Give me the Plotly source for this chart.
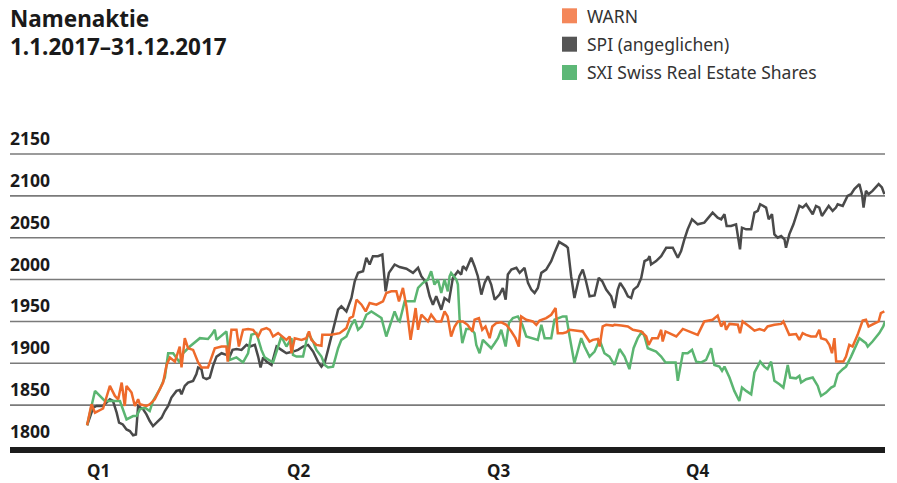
import plotly.graph_objects as go

# ---------------- data (day of year 2017, index value) ----------------
spi_points = [
    (0.1,1826),(2.9,1847),(4.4,1849),(7.3,1849),(10.5,1857),(11.9,1855),(13.6,1841),(14.7,1829),(16.4,1827),
    (18.1,1821),(19.6,1819),(21.1,1814),(22.4,1815),(23.4,1849),(25.7,1845),(27.2,1839),(28.7,1831),(30.2,1825),
    (31.8,1829),(34.1,1835),(35.6,1843),(37.1,1849),(38.6,1859),(40.9,1867),(42.4,1868),(43.2,1863),(44.7,1873),
    (46.2,1877),(48.5,1879),(50.0,1887),(50.8,1895),(52.3,1893),(53.1,1883),(54.6,1881),(56.1,1883),(57.6,1897),
    (59.2,1908),(61.5,1912),(63.7,1910),(65.2,1908),(66.5,1916),(68.3,1917),(70.6,1916),(72.1,1920),(72.9,1922),
    (74.4,1920),(76.7,1922),(78.2,1908),(79.3,1895),(80.5,1907),(82.0,1902),(84.3,1898),(86.6,1920),(88.8,1916),
    (91.1,1912),(94.1,1914),(96.4,1916),(98.7,1920),(101.0,1922),(103.3,1914),(105.5,1902),(107.1,1896),(108.6,1901),
    (110.1,1916),(112.4,1940),(114.7,1964),(116.2,1968),(118.5,1962),(120.8,1978),(122.3,1998),(123.8,2008),
    (126.1,2010),(127.6,2026),(129.1,2018),(130.6,2028),(132.9,2028),(134.9,2030),(136.4,1986),(137.9,2008),
    (140.5,2018),(142.8,2015),(145.9,2013),(148.9,2008),(151.2,2014),(152.7,2004),(155.0,1996),(156.5,1980),
    (158.0,1970),(159.5,1980),(161.8,1964),(163.3,1978),(165.3,1974),(167.1,2002),(169.4,2010),(170.9,2006),
    (171.7,2016),(173.2,2012),(175.5,2026),(177.0,2016),(178.5,2004),(180.1,1982),(181.6,1996),(183.1,2004),
    (184.6,1994),(186.2,1976),(188.4,1982),(189.9,1990),(191.2,1976),(192.2,2006),(193.8,2012),(196.1,2014),
    (197.6,2008),(199.8,2014),(201.4,1996),(202.9,1988),(204.4,1984),(205.9,1990),(207.5,2008),(209.7,2012),
    (212.0,2022),(213.5,2032),(215.6,2045),(218.8,2040),(219.6,2038),(221.1,2004),(222.6,1978),(224.9,2004),
    (226.4,2012),(227.7,2000),(229.5,1980),(231.8,1981),(233.7,2002),(235.3,1998),(237.1,1988),(239.4,1980),
    (240.9,1966),(242.4,1988),(243.5,1996),(245.5,1988),(247.0,1980),(248.5,1978),(249.6,1988),(251.5,1992),
    (253.1,2002),(254.6,2022),(256.1,2024),(256.9,2028),(257.6,2018),(259.9,2022),(262.2,2028),(264.5,2038),
    (267.5,2038),(269.8,2026),(271.3,2034),(272.8,2048),(274.3,2060),(276.3,2072),(278.9,2066),(281.9,2068),
    (283.9,2074),(285.7,2080),(288.0,2074),(289.6,2072),(291.1,2078),(292.1,2064),(294.1,2064),(296.4,2066),
    (298.2,2036),(299.1,2062),(301.0,2060),(303.3,2060),(304.8,2080),(306.3,2082),(307.4,2090),(308.6,2088),
    (310.1,2086),(311.3,2072),(312.8,2078),(313.9,2054),(315.4,2050),(317.0,2052),(318.5,2048),(319.2,2038),
    (320.7,2054),(322.6,2066),(324.1,2078),(325.3,2088),(326.8,2086),(328.4,2090),(329.9,2084),(331.4,2078),
    (332.9,2088),(334.4,2086),(335.6,2076),(337.2,2082),(338.7,2088),(340.5,2082),(342.0,2086),(342.8,2090),
    (345.1,2088),(347.3,2100),(348.9,2102),(350.4,2108),(352.7,2114),(353.9,2102),(354.6,2086),(355.7,2106),
    (356.9,2102),(358.7,2106),(361.5,2114),(363.0,2110),(364.1,2102),
]

warn_points = [
    (0.1,1826),(2.1,1851),(3.7,1841),(7.4,1846),(10.5,1873),(12.8,1861),(14.3,1857),(15.9,1877),(17.3,1849),
    (18.1,1873),(20.4,1865),(21.9,1849),(23.4,1857),(24.2,1851),(27.2,1849),(28.7,1851),(31.0,1857),(33.3,1869),
    (34.8,1877),(36.4,1898),(37.9,1907),(40.2,1902),(42.4,1920),(43.2,1895),(44.7,1930),(46.2,1918),(48.5,1916),
    (50.8,1901),(52.3,1895),(55.3,1895),(56.9,1907),(58.4,1918),(61.5,1920),(63.7,1920),(64.3,1902),(66.0,1940),
    (68.3,1940),(69.4,1920),(71.3,1940),(73.6,1941),(75.9,1940),(78.2,1932),(79.7,1940),(82.0,1942),(83.5,1940),
    (85.0,1932),(87.3,1936),(91.1,1928),(92.6,1932),(93.4,1912),(94.9,1930),(98.0,1928),(100.2,1930),(101.4,1938),
    (102.5,1928),(104.8,1922),(107.1,1921),(107.5,1934),(111.6,1934),(115.4,1936),(118.5,1942),(120.0,1954),
    (121.5,1956),(123.1,1976),(125.4,1970),(127.3,1962),(129.1,1972),(132.2,1970),(135.2,1974),(136.7,1984),
    (139.0,1986),(141.3,1986),(142.5,1974),(144.3,1990),(145.9,1968),(147.8,1928),(150.1,1966),(151.2,1940),
    (152.7,1958),(155.7,1950),(157.2,1958),(159.5,1950),(161.8,1950),(163.3,1962),(164.7,1956),(166.3,1932),
    (167.9,1944),(169.4,1950),(171.7,1950),(173.8,1946),(176.0,1938),(177.0,1952),(179.0,1954),(180.5,1940),
    (182.0,1944),(183.9,1930),(185.1,1944),(186.9,1948),(189.2,1949),(191.5,1946),(193.8,1938),(195.7,1930),
    (197.2,1920),(198.3,1956),(200.6,1952),(203.6,1950),(205.2,1946),(206.7,1951),(209.7,1954),(212.0,1958),
    (214.0,1966),(215.0,1936),(217.3,1936),(218.9,1937),(220.4,1940),(226.4,1938),(229.5,1926),(231.0,1928),
    (233.3,1929),(234.1,1920),(235.5,1944),(237.1,1946),(240.1,1945),(240.9,1946),(244.0,1945),(247.0,1944),
    (249.3,1940),(253.1,1938),(255.4,1932),(256.5,1922),(258.1,1930),(260.7,1930),(262.2,1940),(262.9,1926),
    (264.2,1938),(266.0,1936),(269.1,1932),(272.1,1941),(275.1,1938),(278.9,1934),(281.9,1950),(283.5,1951),
    (285.7,1952),(288.0,1957),(289.6,1944),(291.1,1950),(291.8,1940),(293.4,1947),(297.2,1946),(298.2,1936),
    (299.4,1950),(302.5,1944),(304.8,1939),(307.1,1941),(309.3,1939),(310.8,1944),(313.9,1946),(317.0,1947),
    (318.0,1950),(320.7,1934),(323.8,1935),(325.3,1928),(326.8,1936),(328.4,1934),(330.6,1932),(332.9,1932),
    (334.4,1940),(335.2,1930),(337.5,1928),(339.0,1922),(340.2,1912),(341.3,1930),(342.1,1902),(343.6,1902),
    (345.4,1902),(346.6,1908),(348.1,1922),(349.6,1920),(351.9,1934),(354.2,1951),(355.7,1952),(356.9,1944),
    (359.5,1947),(361.5,1950),(362.5,1960),(364.1,1962),
]

sxi_points = [
    (0.1,1826),(3.7,1867),(8.2,1855),(11.3,1855),(15.1,1855),(18.1,1833),(21.1,1837),(22.7,1837),(24.2,1845),
    (26.5,1847),(28.7,1843),(30.2,1855),(33.3,1869),(35.6,1883),(37.1,1912),(39.4,1912),(42.4,1901),(43.9,1912),
    (47.0,1920),(51.6,1930),(55.3,1929),(56.9,1934),(58.4,1940),(59.2,1928),(63.7,1938),(65.2,1904),(68.3,1907),
    (71.3,1901),(73.6,1912),(75.1,1934),(77.4,1936),(79.7,1916),(81.2,1907),(85.0,1901),(87.3,1920),(88.8,1932),
    (91.1,1920),(93.4,1930),(94.1,1910),(95.7,1908),(98.7,1908),(101.0,1936),(103.3,1926),(104.8,1916),(107.1,1908),
    (108.6,1898),(110.1,1895),(112.4,1896),(114.7,1918),(116.2,1928),(118.5,1932),(120.8,1946),(122.3,1952),
    (123.8,1940),(125.4,1944),(127.6,1958),(129.9,1962),(132.2,1958),(134.5,1954),(136.7,1932),(138.6,1946),
    (140.5,1962),(142.0,1952),(142.8,1950),(145.1,1974),(149.6,1974),(151.2,1990),(153.4,1996),(155.7,2000),
    (157.2,2010),(158.7,1994),(160.3,2000),(161.8,1984),(163.3,2000),(164.8,1986),(165.6,2004),(166.3,2008),
    (168.7,2000),(169.4,1994),(170.2,1952),(171.4,1924),(173.2,1941),(175.5,1941),(177.0,1936),(177.8,1922),
    (179.3,1912),(180.8,1928),(183.1,1922),(184.6,1918),(186.2,1924),(187.7,1930),(189.2,1940),(191.2,1920),
    (192.7,1948),(194.5,1954),(196.8,1956),(198.8,1946),(200.6,1932),(203.6,1930),(205.9,1928),(207.5,1946),
    (209.0,1930),(212.0,1930),(213.5,1952),(217.3,1956),(218.9,1956),(220.4,1932),(222.6,1900),(225.7,1930),
    (227.2,1920),(229.5,1908),(231.8,1914),(234.1,1928),(236.3,1912),(238.6,1908),(240.9,1898),(243.2,1917),
    (245.5,1908),(247.7,1893),(249.6,1918),(251.5,1930),(253.5,1938),(254.6,1932),(256.1,1918),(259.9,1914),
    (262.2,1908),(264.2,1901),(266.8,1901),(268.8,1901),(269.8,1879),(272.1,1912),(274.3,1912),(276.3,1916),
    (278.2,1902),(280.5,1901),(282.7,1904),(285.0,1918),(286.5,1898),(288.8,1896),(290.0,1891),(291.1,1896),
    (293.4,1883),(295.6,1867),(297.9,1855),(299.1,1871),(301.0,1867),(303.3,1863),(304.8,1889),(307.4,1902),
    (309.3,1896),(310.8,1893),(312.4,1902),(313.9,1879),(316.2,1875),(318.0,1871),(320.0,1898),(321.1,1883),
    (323.8,1882),(325.3,1885),(326.1,1877),(328.4,1881),(331.4,1883),(333.7,1873),(334.4,1867),(335.2,1861),
    (337.5,1865),(339.8,1871),(341.3,1873),(342.8,1887),(345.1,1893),(346.6,1896),(348.9,1908),(352.7,1930),
    (355.7,1924),(356.5,1920),(358.7,1926),(361.8,1936),(363.6,1944),(364.4,1950),
]

series_names = ["WARN", "SPI (angeglichen)", "SXI Swiss Real Estate Shares"]
y_ticks = [1800, 1850, 1900, 1950, 2000, 2050, 2100, 2150]
quarter_labels = ["Q1", "Q2", "Q3", "Q4"]
quarter_starts = [0, 91.25, 182.5, 273.75]

# ---------------- styling ----------------
W, H = 897, 483
L, R, T, B = 10, 12, 154, 36
PW, PH = W - L - R, H - T - B
FONT = "Noto Sans"

line_colors = {"WARN": "#EE6A2B", "SPI (angeglichen)": "#4A4A4A", "SXI Swiss Real Estate Shares": "#5BB571"}
legend_colors = {"WARN": "#F4875A", "SPI (angeglichen)": "#555555", "SXI Swiss Real Estate Shares": "#5DB877"}

def px_x(p):
    return (p - L) / PW

def px_y(p):
    return (T + PH - p) / PH

fig = go.Figure()
data_map = {"WARN": warn_points, "SPI (angeglichen)": spi_points, "SXI Swiss Real Estate Shares": sxi_points}
for name in ["SPI (angeglichen)", "SXI Swiss Real Estate Shares", "WARN"]:
    pts = data_map[name]
    fig.add_trace(go.Scatter(
        x=[p[0] for p in pts], y=[p[1] for p in pts], mode="lines", name=name,
        line=dict(color=line_colors[name], width=2.5), showlegend=False, hoverinfo="skip",
    ))

shapes = []
for v in y_ticks[1:]:
    shapes.append(dict(type="line", xref="paper", yref="paper", x0=0, x1=1,
                       y0=(v - 1800) / 350, y1=(v - 1800) / 350,
                       line=dict(color="#7a7a7a", width=1.6), layer="below"))
# thick base line
shapes.append(dict(type="line", xref="paper", yref="paper", x0=0, x1=1,
                   y0=-3 / PH, y1=-3 / PH, line=dict(color="#1c1c1c", width=6), layer="above"))

annotations = []
for v in y_ticks:
    annotations.append(dict(x=0, xref="paper", y=(v - 1800) / 350, yref="paper",
                            text=f"<b>{v}</b>", showarrow=False, xanchor="left", yanchor="bottom",
                            yshift=2, xshift=-2, font=dict(family=FONT, size=17.5, color="#1a1a1a")))
for lab, d in zip(quarter_labels, quarter_starts):
    annotations.append(dict(x=d, xref="x", y=px_y(470), yref="paper", text=f"<b>{lab}</b>",
                            showarrow=False, xanchor="left", yanchor="middle", xshift=-2,
                            font=dict(family=FONT, size=17, color="#1a1a1a")))
# title
annotations.append(dict(x=0, xref="paper", y=px_y(18), yref="paper", text="<b>Namenaktie</b>",
                        showarrow=False, xanchor="left", yanchor="middle", xshift=-2,
                        font=dict(family=FONT, size=22.5, color="#1a1a1a")))
annotations.append(dict(x=0, xref="paper", y=px_y(47), yref="paper", text="<b>1.1.2017–31.12.2017</b>",
                        showarrow=False, xanchor="left", yanchor="middle", xshift=-2,
                        font=dict(family=FONT, size=22.5, color="#1a1a1a")))
# legend
legend_rows = [15.8, 44.2, 72.5]
for name, cy in zip(series_names, legend_rows):
    shapes.append(dict(type="rect", xref="paper", yref="paper",
                       x0=px_x(562), x1=px_x(577), y0=px_y(cy + 7.5), y1=px_y(cy - 7.5),
                       fillcolor=legend_colors[name], line=dict(width=0)))
    annotations.append(dict(x=px_x(585), xref="paper", y=px_y(cy), yref="paper", text=name,
                            showarrow=False, xanchor="left", yanchor="middle",
                            font=dict(family=FONT, size=17.5, color="#333333")))

fig.update_layout(
    width=W, height=H, margin=dict(l=L, r=R, t=T, b=B, pad=0),
    paper_bgcolor="white", plot_bgcolor="white",
    xaxis=dict(range=[-35.1, 364.4], showgrid=False, zeroline=False, showticklabels=False,
               showline=False, ticks=""),
    yaxis=dict(range=[1800, 2150], showgrid=False, zeroline=False, showticklabels=False,
               showline=False, ticks=""),
    shapes=shapes, annotations=annotations, showlegend=False,
)

fig.write_html("out.html", config={"displayModeBar": False, "staticPlot": True},
               post_script="document.body.style.margin='0';document.body.style.overflow='hidden';")
